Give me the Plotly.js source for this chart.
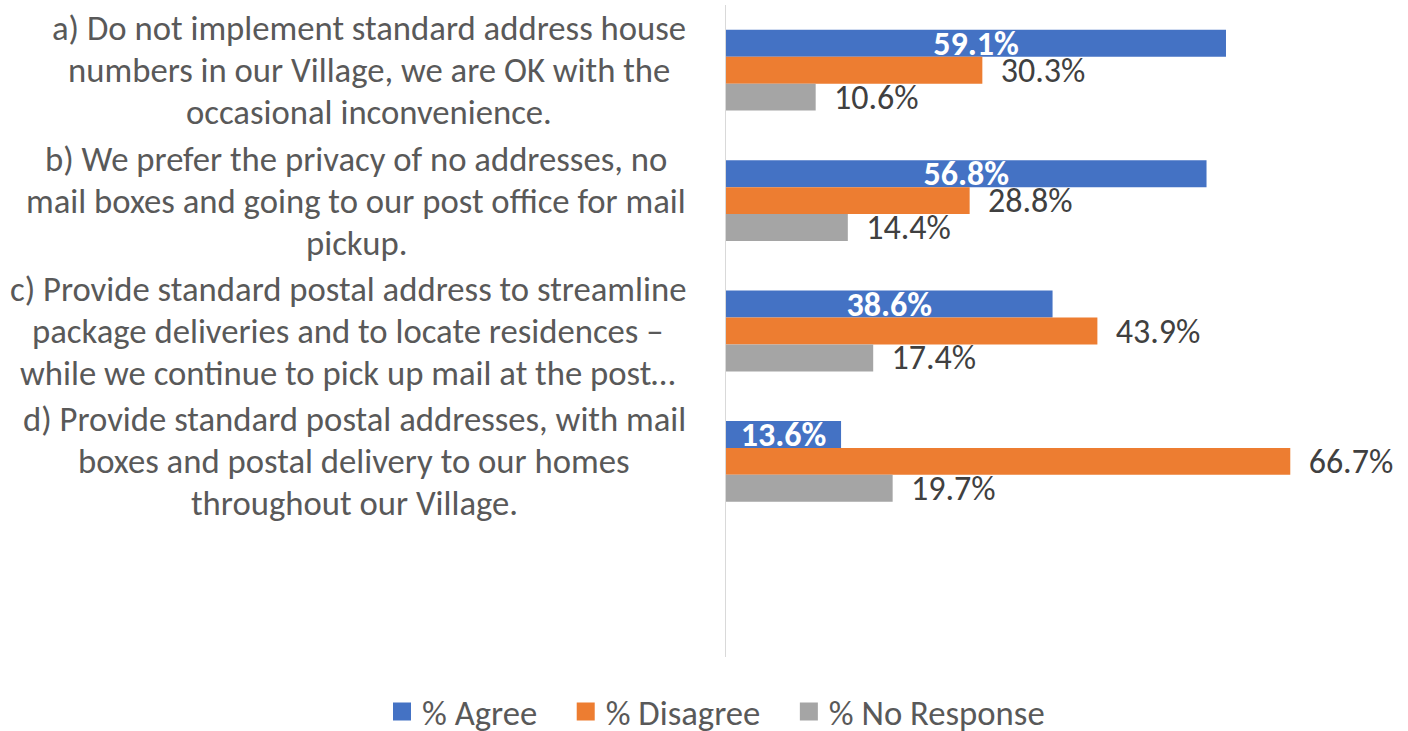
<!DOCTYPE html>
<html>
<head>
<meta charset="utf-8">
<script src="https://cdn.plot.ly/plotly-3.0.1.min.js"></script>
<style>html,body{margin:0;padding:0;background:#fff;}#chart{width:1408px;height:731px;}</style>
</head>
<body>
<div id="chart"></div>
<script>
var categories = [
  "a) Do not implement standard address house<br>numbers in our Village, we are OK with the<br>occasional inconvenience.",
  "b) We prefer the privacy of no addresses, no<br>mail boxes and going to our post office for mail<br>pickup.",
  "c) Provide standard postal address to streamline<br>package deliveries and to locate residences –<br>while we continue to pick up mail at the post…",
  "d) Provide standard postal addresses, with mail<br>boxes and postal delivery to our homes<br>throughout our Village."
];
var seriesNames = ["% Agree", "% Disagree", "% No Response"];
var agree = [59.1, 56.8, 38.6, 13.6];
var disagree = [30.3, 28.8, 43.9, 66.7];
var noResponse = [10.6, 14.4, 17.4, 19.7];

var FONT = "Carlito, Calibri, 'Liberation Sans', sans-serif";
var colors = ["#4472C4", "#ED7D31", "#A5A5A5"];
var LABEL_SIZE = 34.7, LINE_H = 42, LABEL_RIGHT = 686;
var ML = 726, MR = 8, W = 1408, H = 731;
var PW = W - ML - MR;
var NBSP = "\u00a0";

function barTrace(name, vals, color, inside) {
  return {
    type: "bar", orientation: "h", name: name + NBSP + NBSP + NBSP,
    x: vals, y: categories,
    marker: {color: color},
    text: vals.map(function(v){ return v.toFixed(1) + "%"; }),
    texttemplate: inside ? "<b>%{text}</b>" : NBSP + NBSP + "%{text}",
    textposition: inside ? "inside" : "outside",
    insidetextanchor: "middle",
    constraintext: "none",
    cliponaxis: false,
    textfont: {family: FONT, size: 34, color: inside ? "#ffffff" : "#404040"},
    hoverinfo: "skip"
  };
}

var data = [
  barTrace(seriesNames[0], agree, colors[0], true),
  barTrace(seriesNames[1], disagree, colors[1], false),
  barTrace(seriesNames[2], noResponse, colors[2], false)
];

// category labels: each line centred within a right-aligned block
var ctx = document.createElement("canvas").getContext("2d");
ctx.font = LABEL_SIZE + "px Carlito, Calibri, sans-serif";
var annotations = [];
categories.forEach(function(c){
  var lines = c.split("<br>");
  var wmax = 0;
  lines.forEach(function(l){ wmax = Math.max(wmax, ctx.measureText(l).width); });
  var cx = (LABEL_RIGHT - wmax / 2 - ML) / PW;
  lines.forEach(function(l, i){
    annotations.push({
      xref: "paper", yref: "y", x: cx, y: c,
      yshift: ((lines.length - 1) / 2 - i) * LINE_H,
      xanchor: "center", yanchor: "middle",
      text: l, showarrow: false,
      font: {family: FONT, size: LABEL_SIZE, color: "#595959"}
    });
  });
});

var layout = {
  width: W, height: H,
  margin: {l: ML, r: MR, t: 5, b: 74, pad: 0, autoexpand: false},
  paper_bgcolor: "#ffffff", plot_bgcolor: "#ffffff",
  barmode: "group", bargap: 0.38, bargroupgap: 0,
  showlegend: true,
  legend: {
    orientation: "h", x: (382 - ML) / PW, xanchor: "left", y: -0.039, yanchor: "top",
    font: {family: FONT, size: 34.7, color: "#595959"},
    traceorder: "normal"
  },
  xaxis: {range: [0, PW / 8.46], showgrid: false, zeroline: false, showticklabels: false, showline: false, ticks: "", fixedrange: true},
  yaxis: {
    type: "category", categoryorder: "array", categoryarray: categories,
    range: [4.5, -0.5], showticklabels: false, ticks: "",
    showline: true, linecolor: "#D9D9D9", linewidth: 1.5, showgrid: false, zeroline: false, fixedrange: true
  },
  annotations: annotations,
  font: {family: FONT}
};

Plotly.newPlot("chart", data, layout, {displayModeBar: false, staticPlot: true}).then(function(gd){
  gd.querySelectorAll(".legendpoints path").forEach(function(p){
    var t = p.getAttribute("transform") || "";
    p.setAttribute("transform", t + " scale(1.5)");
  });
});
</script>
</body>
</html>
